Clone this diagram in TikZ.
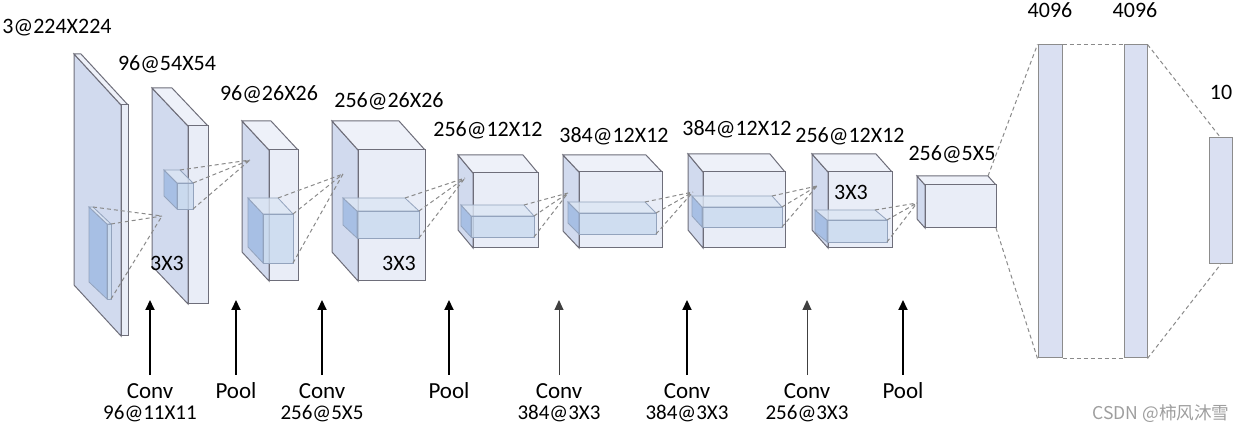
\documentclass[tikz,border=0pt]{standalone}
\usepackage{fontspec}
\setmainfont{Carlito}
\newfontfamily\cjkfont{Noto Sans CJK SC}
\usetikzlibrary{arrows.meta, positioning, calc}

\definecolor{blkfront}{HTML}{E9EDF7}
\definecolor{blkside}{HTML}{D1DAEE}
\definecolor{blktop}{HTML}{EEF1F9}
\definecolor{blkedge}{HTML}{6E6E7A}
\definecolor{kerfront}{HTML}{C9DAEF}
\definecolor{kerside}{HTML}{9DB9E2}
\definecolor{kertop}{HTML}{DCE6F4}
\definecolor{keredge}{HTML}{93A3BD}
\definecolor{fangray}{HTML}{8A8A8A}
\definecolor{fcfill}{HTML}{DAE0F2}
\definecolor{fcedge}{HTML}{8C8C8C}

% name, front top-left x y, front bottom-right x y, depth dx dy, kind
\newcommand{\cuboid}[8]{%
  \filldraw[#8 side] (#2,#3) -- ({#2+#6},{#3+#7}) -- ({#2+#6},{#5+#7}) -- (#2,#5) -- cycle;
  \filldraw[#8 top] (#2,#3) -- ({#2+#6},{#3+#7}) -- ({#4+#6},{#3+#7}) -- (#4,#3) -- cycle;
  \filldraw[#8 front] (#2,#3) rectangle (#4,#5);
  \coordinate (#1-btr) at ({#4+#6},{#3+#7});
  \coordinate (#1-ftr) at (#4,#3);
  \coordinate (#1-fbr) at (#4,#5);
}

\begin{document}
\begin{tikzpicture}[
  x=0.5pt, y=-0.5pt,
  every node/.style={font=\fontsize{11}{13}\selectfont, inner sep=1pt},
  block front/.style={fill=blkfront, draw=blkedge, line width=0.5pt},
  block side/.style={fill=blkside, draw=blkedge, line width=0.5pt},
  block top/.style={fill=blktop, draw=blkedge, line width=0.5pt},
  kernel front/.style={fill=kerfront, fill opacity=0.8, draw=keredge, line width=0.4pt},
  kernel side/.style={fill=kerside, fill opacity=0.8, draw=keredge, line width=0.4pt},
  kernel top/.style={fill=kertop, fill opacity=0.8, draw=keredge, line width=0.4pt},
  fan/.style={draw=fangray, dash pattern=on 2pt off 1.5pt, line width=0.5pt},
  fc/.style={rectangle, fill=fcfill, draw=fcedge, line width=0.5pt, inner sep=0pt},
  op/.style={font=\fontsize{11.5}{13}\selectfont},
  sub/.style={font=\fontsize{10.5}{12}\selectfont},
  up/.style={-{Triangle[length=5pt, width=4.5pt]}, line width=1pt, shorten <=3pt},
  upthin/.style={-{Triangle[length=5pt, width=4.5pt]}, line width=0.5pt, draw=black!75, shorten <=3pt},
  wmark/.style={font=\cjkfont\fontsize{8.8}{10}\selectfont, text=black!38}
]
  \useasboundingbox (0,0) rectangle (1244,432);

  % feature maps
  \foreach \n/\a/\b/\c/\d/\u/\v in {b1/121/105/128/336/-47/-51, b2/188/126/208/304/-36/-38,
      b3/269/150/298/281/-27/-29, b4/358/150/425/281/-26/-29, b5/473/173/538/248/-15/-18,
      b6/579/172/662/248/-16/-17, b7/703/172/785/248/-15/-18, b8/828/172/892/248/-16/-18,
      b9/925/185/996/228/-8/-9}
    {\cuboid{\n}{\a}{\b}{\c}{\d}{\u}{\v}{block}}

  % kernels
  \foreach \n/\a/\b/\c/\d/\u/\v in {k1/107/224/111/299/-18/-17, k2/177/183/193/209/-13/-13,
      k3/263/214/293/263/-15/-16, k4/357/211/419/238/-14/-13, k5/471/216/534/237/-10/-11,
      k6/579/213/656/234/-11/-11, k7/702/207/782/227/-10/-11, k8/827/220/887/242/-12/-10}
    {\cuboid{\n}{\a}{\b}{\c}{\d}{\u}{\v}{kernel}}

  \coordinate (p2) at (162,216);
  \coordinate (p3) at (250,160);
  \coordinate (p4) at (343,174);
  \coordinate (p5) at (465,178);
  \coordinate (p6) at (568,193);
  \coordinate (p7) at (693,192);
  \coordinate (p8) at (817,186);
  \coordinate (p9) at (917,203);

  \foreach \k/\p in {k1/p2, k2/p3, k3/p4, k4/p5, k5/p6, k6/p7, k7/p8, k8/p9}{
    \draw[fan] (\k-btr) -- (\p) (\k-ftr) -- (\p) (\k-fbr) -- (\p);
  }

  % fully connected layers
  \node[fc, minimum width=12pt, minimum height=156.5pt] (fc1) at (1050,201.5) {};
  \node[fc, minimum width=11.5pt, minimum height=156.5pt] (fc2) at (1135.5,201.5) {};
  \node[fc, minimum width=11.5pt, minimum height=63pt] (fc3) at (1220.5,201) {};

  \draw[fan] (b9-btr) -- (fc1.north west) (b9-fbr) -- (fc1.south west);
  \draw[fan] (fc1.north east) -- (fc2.north west) (fc1.south east) -- (fc2.south west);
  \draw[fan] (fc2.north east) -- (fc3.north) (fc2.south east) -- (fc3.south);

  % sizes
  \foreach \x/\y/\t [count=\i] in {57/28/3@224X224, 167/64/96@54X54, 269/94/96@26X26,
      389/101/256@26X26, 488/130/256@12X12, 614/136/384@12X12, 737/129/384@12X12,
      850/136/256@12X12, 952/154/256@5X5, 1050/10/4096, 1135/10/4096, 1221/92/10}
    {\node (d\i) at (\x,\y) {\t};}

  \node (w2) at (167,263) {3X3};
  \node (w4) at (399,263) {3X3};
  \node (w8) at (851,192) {3X3};

  % operations
  \foreach \x/\o/\s [count=\i] in {150/Conv/up, 236/Pool/up, 322/Conv/up, 449/Pool/up,
      559/Conv/upthin, 687/Conv/up, 807/Conv/upthin, 903/Pool/up}{
    \node[op] (o\i) at (\x,391) {\o};
    \coordinate (t\i) at (\x,300);
    \draw[\s] (o\i) -- (t\i);
  }
  \foreach \x/\t [count=\i] in {150/96@11X11, 322/256@5X5, 559/384@3X3, 687/384@3X3, 807/256@3X3}
    {\node[sub] (s\i) at (\x,414) {\t};}

  \node[wmark] (csdn) at (1161,414) {CSDN @柿风沐雪};
\end{tikzpicture}
\end{document}
